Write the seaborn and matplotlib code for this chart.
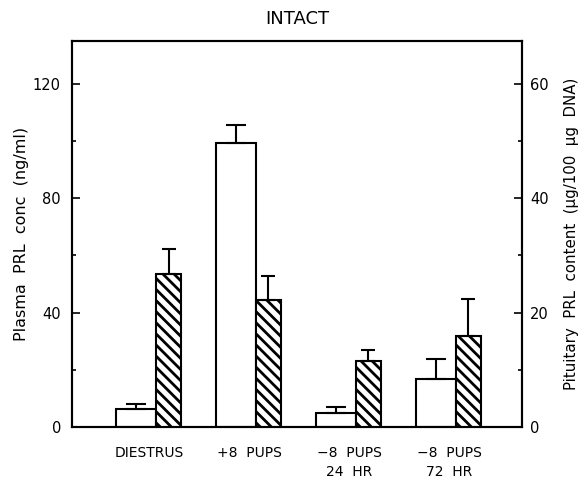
import numpy as np
import pandas as pd
import seaborn as sns
import matplotlib.pyplot as plt

# values
groups = ['DIESTRUS', '+8  PUPS', '\u22128  PUPS\n24  HR', '\u22128  PUPS\n72  HR']
plasma = [6.2, 99.3, 5.0, 16.9]          # ng/ml, left axis, open bars
plasma_err = [1.8, 6.4, 1.9, 6.9]
pituitary = [26.8, 22.2, 11.5, 15.9]     # ug/100 ug DNA, right axis, hatched bars
pituitary_err = [4.3, 4.2, 2.0, 6.5]

sns.set_style('ticks')
plt.rcParams['font.family'] = ['DejaVu Sans']
plt.rcParams['hatch.linewidth'] = 2.0
plt.rcParams['text.color'] = 'black'
plt.rcParams['axes.labelcolor'] = 'black'
plt.rcParams['xtick.color'] = 'black'
plt.rcParams['ytick.color'] = 'black'

pos = np.arange(len(groups))
df = pd.DataFrame({'pos': pos, 'plasma': plasma, 'pituitary': pituitary})

fig = plt.figure(figsize=(5.84, 4.79), dpi=100)
ax = fig.add_axes([0.1233, 0.1086, 0.7705, 0.8058])
ax2 = ax.twinx()

# open bars (plasma), sitting left of each group boundary
sns.barplot(x=df['pos'] - 0.2, y=df['plasma'], native_scale=True, orient='x',
            width=0.4, color='white', edgecolor='black', linewidth=1.5,
            errorbar=None, ax=ax)
ax.errorbar(pos - 0.2, plasma, yerr=[np.zeros(4), plasma_err], fmt='none',
            ecolor='black', elinewidth=1.5, capsize=7, capthick=1.5)

# hatched bars (pituitary), right axis
sns.barplot(x=df['pos'] + 0.125, y=df['pituitary'], native_scale=True, orient='x',
            width=0.25, color='white', edgecolor='black', linewidth=1.5,
            hatch='\\\\\\', errorbar=None, ax=ax2)
ax2.errorbar(pos + 0.125, pituitary, yerr=[np.zeros(4), pituitary_err], fmt='none',
             ecolor='black', elinewidth=1.5, capsize=5, capthick=1.5)

ax.set_xlim(-0.84, 3.66)
ax.set_ylim(0, 135)
ax2.set_ylim(0, 67.5)

ax.set_xticks(pos - 0.065)
ax.set_xticklabels(groups, fontsize=10, linespacing=1.45)
ax.tick_params(axis='x', length=0, pad=14)

ax.set_yticks([0, 40, 80, 120])
ax.set_yticks([20, 60, 100], minor=True)
ax.tick_params(axis='y', which='major', direction='in', length=6, width=1.2,
               labelsize=10.5, pad=8)
ax.tick_params(axis='y', which='minor', direction='in', length=3, width=1.2)

ax2.set_yticks([0, 20, 40, 60])
ax2.set_yticks([10, 30, 50], minor=True)
ax2.tick_params(axis='y', which='major', direction='in', length=6, width=1.2,
                labelsize=10.5, pad=6)
ax2.tick_params(axis='y', which='minor', direction='in', length=3, width=1.2)

ax.set_xlabel('')
ax.set_ylabel('Plasma  PRL  conc  (ng/ml)', fontsize=11.5, labelpad=3)
ax2.set_ylabel('Pituitary  PRL  content  (\u00b5g/100  \u00b5g  DNA)', fontsize=10.8,
               rotation=90, labelpad=11)
ax.set_title('INTACT', fontsize=13, pad=12)

for a in (ax, ax2):
    for s in a.spines.values():
        s.set_linewidth(1.5)
        s.set_color('black')

fig.savefig('out.png', dpi=100)
